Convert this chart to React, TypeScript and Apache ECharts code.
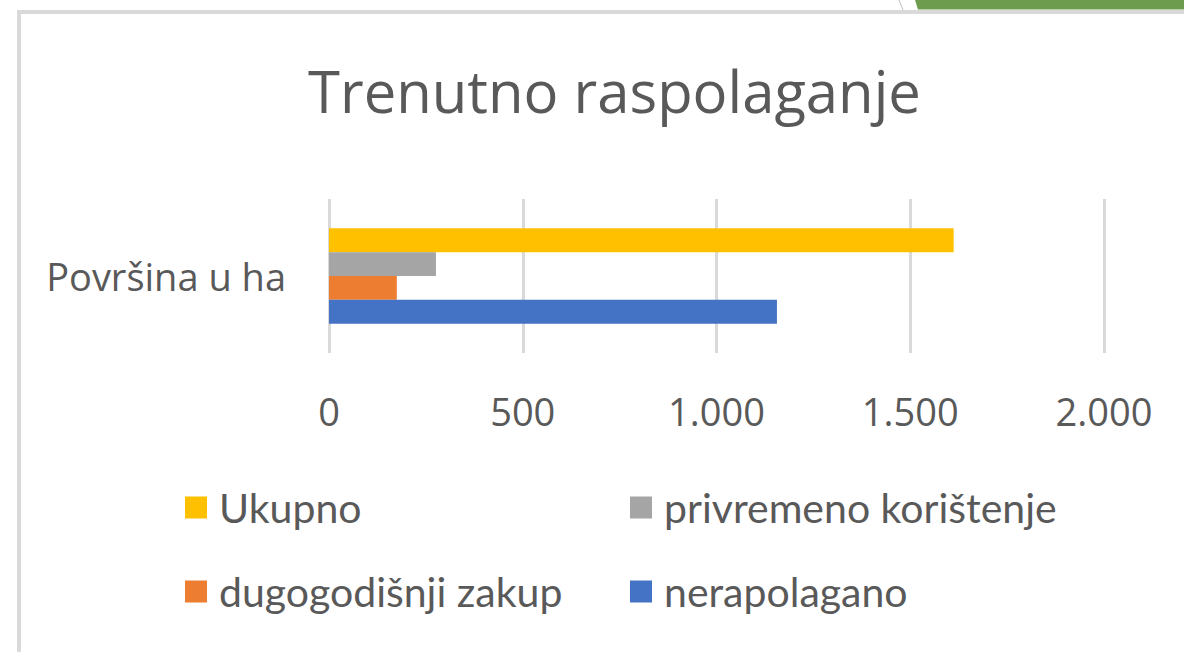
import React, { useEffect, useRef } from "react";
import * as echarts from "echarts";

const categories = ["Površina u ha"];
const seriesNames = ["Ukupno", "privremeno korištenje", "dugogodišnji zakup", "nerapolagano"];
const ukupno = [1612];
const privremenoKoristenje = [276];
const dugogodisnjiZakup = [175];
const nerapolagano = [1156];
const seriesColors = ["#FFC000", "#A5A5A5", "#ED7D31", "#4472C4"];
const xTicks = [0, 500, 1000, 1500, 2000];

const fmt = (v: number) => {
  const s = String(Math.round(v));
  return s.replace(/\B(?=(\d{3})+(?!\d))/g, ".");
};

export default function App() {
  const ref = useRef<HTMLDivElement>(null);
  useEffect(() => {
    if (!ref.current) return;
    const chart = echarts.init(ref.current, null, { renderer: "svg" });
    const values = [ukupno, privremenoKoristenje, dugogodisnjiZakup, nerapolagano];
    const gray = "#595959";
    const legendText = { fontFamily: "Lato", fontSize: 41, color: gray, padding: [0, 0, 0, 7] };
    chart.setOption({
      animation: false,
      backgroundColor: "#ffffff",
      title: {
        text: "Trenutno raspolaganje",
        left: 308,
        top: 61,
        padding: 0,
        textStyle: { fontFamily: "Open Sans", fontSize: 58, fontWeight: "normal", color: gray },
      },
      grid: { left: 329, right: 80, top: 199, bottom: 299, containLabel: false },
      xAxis: {
        type: "value",
        min: xTicks[0],
        max: xTicks[xTicks.length - 1],
        interval: 500,
        axisLine: { show: false },
        axisTick: { show: false },
        splitLine: { show: true, lineStyle: { color: "#d9d9d9", width: 3 } },
        axisLabel: {
          margin: 39,
          fontFamily: "Open Sans",
          fontSize: 38,
          color: gray,
          formatter: (v: number) => fmt(v),
        },
      },
      yAxis: {
        type: "category",
        inverse: false,
        data: categories,
        axisLine: { show: false },
        axisTick: { show: false },
        axisLabel: { margin: 43, fontFamily: "Open Sans", fontSize: 38, color: gray },
      },
      legend: [
        {
          orient: "vertical",
          left: 185,
          top: 487,
          padding: 0,
          itemWidth: 22,
          itemHeight: 22,
          itemGap: 43,
          icon: "rect",
          data: ["Ukupno", "dugogodišnji zakup"],
          textStyle: legendText,
        },
        {
          orient: "vertical",
          left: 630,
          top: 487,
          padding: 0,
          itemWidth: 22,
          itemHeight: 22,
          itemGap: 43,
          icon: "rect",
          data: ["privremeno korištenje", "nerapolagano"],
          textStyle: legendText,
        },
      ],
      series: seriesNames.map((name, i) => ({
        name,
        type: "bar",
        data: values[i],
        barGap: "0%",
        barCategoryGap: "38%",
        itemStyle: { color: seriesColors[i] },
      })),
      graphic: [
        { type: "rect", shape: { x: 17, y: 10, width: 1167, height: 4 }, style: { fill: "#d9d9d9" }, silent: true },
        { type: "rect", shape: { x: 17, y: 10, width: 4, height: 642 }, style: { fill: "#d9d9d9" }, silent: true },
        { type: "polygon", shape: { points: [[915, 0], [1184, 0], [1184, 9.5], [918, 9.5]] }, style: { fill: "#6e9c4f" }, silent: true },
        { type: "line", shape: { x1: 899, y1: 0, x2: 903, y2: 10 }, style: { stroke: "#bfbfbf", lineWidth: 1 }, silent: true },
      ],
    });
    return () => chart.dispose();
  }, []);
  return (
    <div
      ref={ref}
      style={{ position: "fixed", left: 0, top: 0, width: 1184, height: 652 }}
    />
  );
}
